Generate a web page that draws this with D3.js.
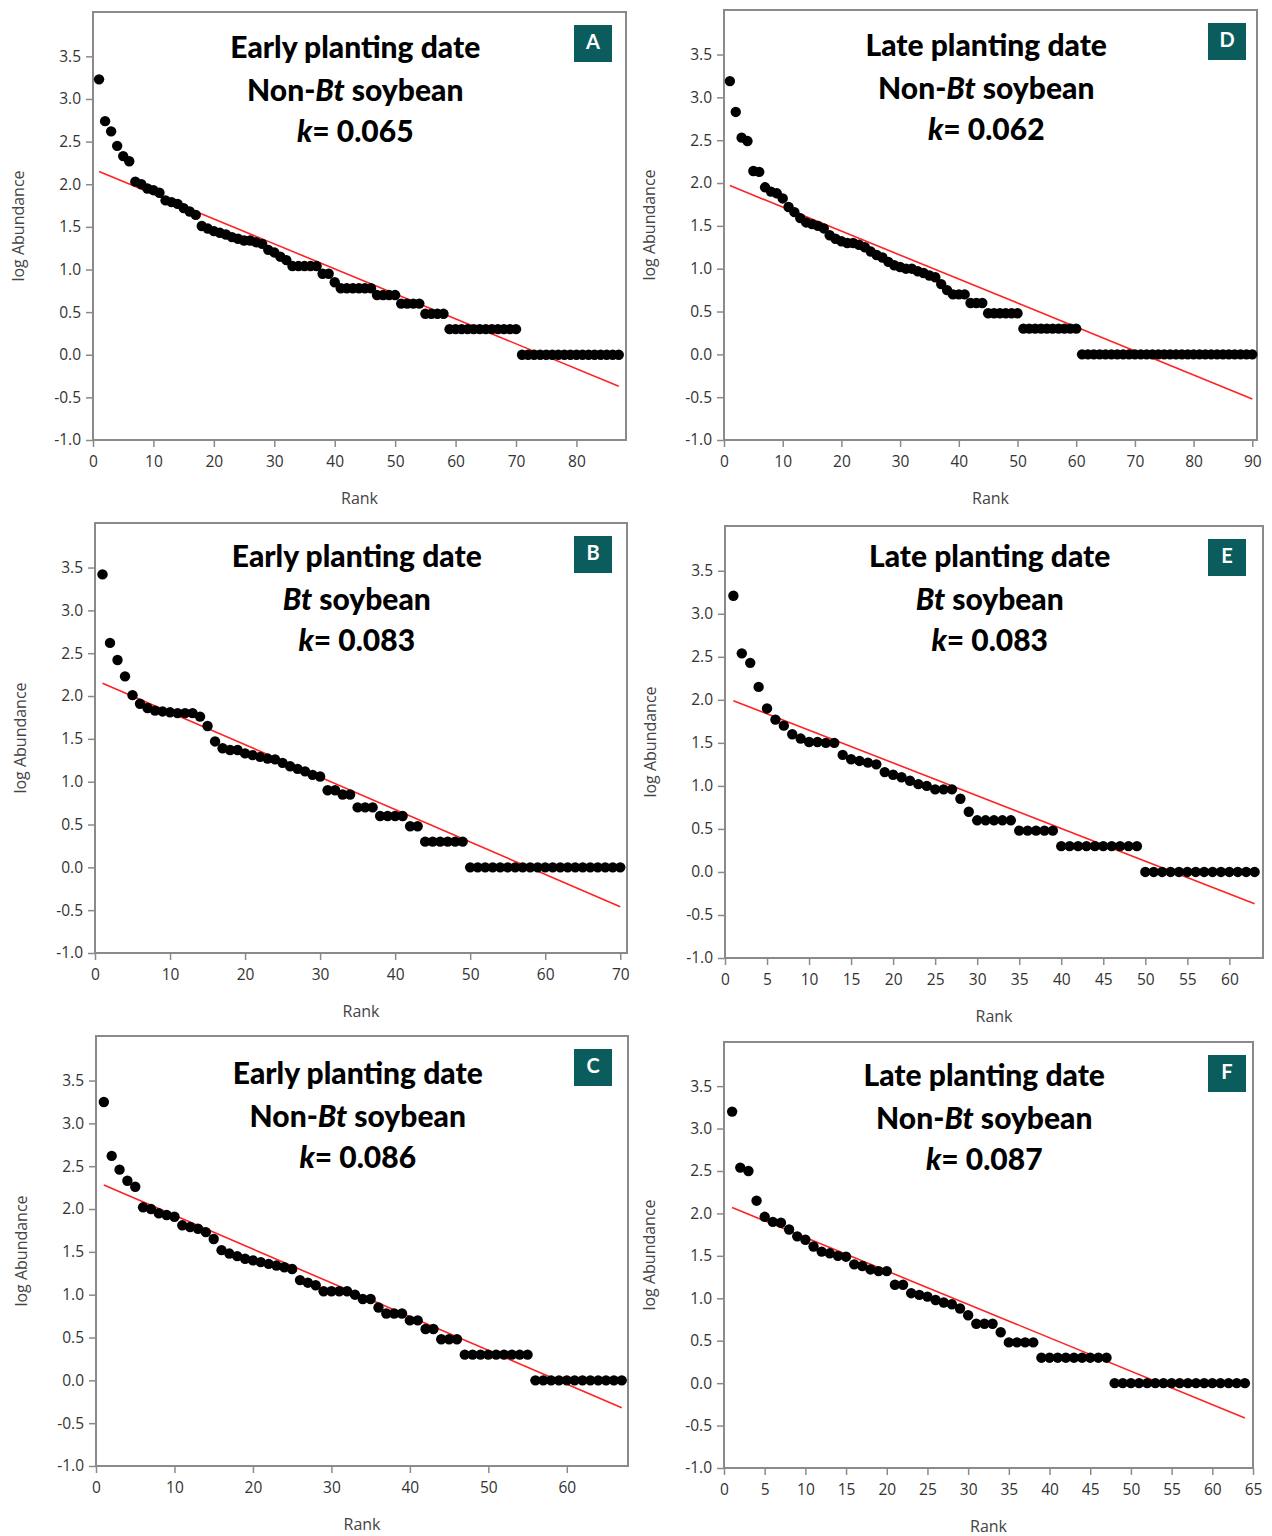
<!DOCTYPE html>
<html>
<head>
<meta charset="utf-8">
<script src="https://cdn.jsdelivr.net/npm/d3@7"></script>
<style>
  body { margin: 0; background: #fff; }
  svg { display: block; }
</style>
</head>
<body>
<div id="chart"></div>
<script>
// Panel labels, titles and fitted slopes
const panelIds = ["A", "D", "B", "E", "C", "F"];
const plantingDates = ["Early", "Late", "Early", "Late", "Early", "Late"];
const soyTypes = ["Non-Bt", "Non-Bt", "Bt", "Bt", "Non-Bt", "Non-Bt"];
const kValues = ["0.065", "0.062", "0.083", "0.083", "0.086", "0.087"];

// log abundance by rank (rank = position in list, starting at 1)
const abundA = [3.23, 2.74, 2.62, 2.45, 2.33, 2.27, 2.03, 2.00, 1.95, 1.93, 1.90, 1.81, 1.79, 1.77, 1.72, 1.68, 1.64,
  1.51, 1.48, 1.45, 1.43, 1.41, 1.38, 1.36, 1.34, 1.34, 1.32, 1.30, 1.23, 1.20, 1.15, 1.11, 1.04, 1.04, 1.04, 1.04, 1.04,
  0.95, 0.95, 0.85, 0.78, 0.78, 0.78, 0.78, 0.78, 0.78, 0.70, 0.70, 0.70, 0.70, 0.60, 0.60, 0.60, 0.60,
  0.48, 0.48, 0.48, 0.48, 0.30, 0.30, 0.30, 0.30, 0.30, 0.30, 0.30, 0.30, 0.30, 0.30, 0.30, 0.30,
  0, 0, 0, 0, 0, 0, 0, 0, 0, 0, 0, 0, 0, 0, 0, 0, 0];
const abundD = [3.19, 2.83, 2.53, 2.49, 2.14, 2.13, 1.95, 1.90, 1.88, 1.82, 1.72, 1.66, 1.59, 1.54, 1.52, 1.50, 1.47,
  1.39, 1.35, 1.32, 1.30, 1.30, 1.28, 1.25, 1.20, 1.16, 1.13, 1.08, 1.04, 1.02, 1.00, 1.00, 0.97, 0.95, 0.92, 0.90,
  0.82, 0.75, 0.70, 0.70, 0.70, 0.60, 0.60, 0.60, 0.48, 0.48, 0.48, 0.48, 0.48, 0.48,
  0.30, 0.30, 0.30, 0.30, 0.30, 0.30, 0.30, 0.30, 0.30, 0.30,
  0, 0, 0, 0, 0, 0, 0, 0, 0, 0, 0, 0, 0, 0, 0, 0, 0, 0, 0, 0, 0, 0, 0, 0, 0, 0, 0, 0, 0, 0];
const abundB = [3.42, 2.62, 2.42, 2.23, 2.01, 1.91, 1.86, 1.83, 1.82, 1.81, 1.80, 1.80, 1.80, 1.76, 1.65, 1.47, 1.39,
  1.37, 1.37, 1.33, 1.31, 1.29, 1.27, 1.26, 1.22, 1.18, 1.15, 1.12, 1.08, 1.06, 0.90, 0.90, 0.85, 0.85,
  0.70, 0.70, 0.70, 0.60, 0.60, 0.60, 0.60, 0.48, 0.48, 0.30, 0.30, 0.30, 0.30, 0.30, 0.30,
  0, 0, 0, 0, 0, 0, 0, 0, 0, 0, 0, 0, 0, 0, 0, 0, 0, 0, 0, 0, 0];
const abundE = [3.21, 2.54, 2.43, 2.15, 1.90, 1.77, 1.70, 1.60, 1.55, 1.51, 1.51, 1.50, 1.50, 1.36, 1.31, 1.29, 1.27,
  1.25, 1.16, 1.13, 1.10, 1.06, 1.02, 1.00, 0.96, 0.96, 0.96, 0.85, 0.70, 0.60, 0.60, 0.60, 0.60, 0.60,
  0.48, 0.48, 0.48, 0.48, 0.48, 0.30, 0.30, 0.30, 0.30, 0.30, 0.30, 0.30, 0.30, 0.30, 0.30,
  0, 0, 0, 0, 0, 0, 0, 0, 0, 0, 0, 0, 0, 0];
const abundC = [3.25, 2.62, 2.46, 2.33, 2.26, 2.02, 2.00, 1.95, 1.93, 1.91, 1.81, 1.79, 1.77, 1.73, 1.65, 1.52, 1.48,
  1.45, 1.42, 1.40, 1.38, 1.36, 1.34, 1.32, 1.30, 1.17, 1.14, 1.11, 1.04, 1.04, 1.04, 1.04, 1.00, 0.95, 0.95, 0.85,
  0.78, 0.78, 0.78, 0.70, 0.70, 0.60, 0.60, 0.48, 0.48, 0.48, 0.30, 0.30, 0.30, 0.30, 0.30, 0.30, 0.30, 0.30, 0.30,
  0, 0, 0, 0, 0, 0, 0, 0, 0, 0, 0, 0];
const abundF = [3.20, 2.54, 2.50, 2.15, 1.96, 1.90, 1.89, 1.81, 1.73, 1.69, 1.61, 1.55, 1.53, 1.50, 1.49, 1.40, 1.38,
  1.34, 1.32, 1.32, 1.16, 1.16, 1.06, 1.04, 1.02, 0.98, 0.95, 0.93, 0.88, 0.80, 0.70, 0.70, 0.70, 0.60,
  0.48, 0.48, 0.48, 0.48, 0.30, 0.30, 0.30, 0.30, 0.30, 0.30, 0.30, 0.30, 0.30,
  0, 0, 0, 0, 0, 0, 0, 0, 0, 0, 0, 0, 0, 0, 0, 0, 0];

// fitted line end points [rank, log abundance]
const fitA = [[1, 2.15], [87, -0.37]];
const fitD = [[1, 1.97], [90, -0.52]];
const fitB = [[1, 2.15], [70, -0.46]];
const fitE = [[1, 1.99], [63, -0.37]];
const fitC = [[1, 2.28], [67, -0.32]];
const fitF = [[1, 2.07], [64, -0.41]];

// axis ticks
const yTicks = [-1.0, -0.5, 0.0, 0.5, 1.0, 1.5, 2.0, 2.5, 3.0, 3.5];
const xTicksA = [0, 10, 20, 30, 40, 50, 60, 70, 80];
const xTicksD = [0, 10, 20, 30, 40, 50, 60, 70, 80, 90];
const xTicksB = [0, 10, 20, 30, 40, 50, 60, 70];
const xTicksE = [0, 5, 10, 15, 20, 25, 30, 35, 40, 45, 50, 55, 60];
const xTicksC = [0, 10, 20, 30, 40, 50, 60];
const xTicksF = [0, 5, 10, 15, 20, 25, 30, 35, 40, 45, 50, 55, 60, 65];

const xMaxes = [88.2, 90.8, 70.9, 64, 67.8, 65];

const abundances = [abundA, abundD, abundB, abundE, abundC, abundF];
const fits = [fitA, fitD, fitB, fitE, fitC, fitF];
const xTickSets = [xTicksA, xTicksD, xTicksB, xTicksE, xTicksC, xTicksF];

// frame boxes in the page
const frames = [
  { left: 93, top: 12, right: 626, bottom: 440 },
  { left: 724, top: 10, right: 1257, bottom: 440 },
  { left: 95, top: 523, right: 627, bottom: 953 },
  { left: 725, top: 526, right: 1263, bottom: 958 },
  { left: 96, top: 1036, right: 628, bottom: 1466 },
  { left: 724, top: 1042, right: 1253, bottom: 1468 }
];
const titleOffsets = [38, 38, 36, 33, 40, 36];
const badgeX = [574, 1208, 574, 1208, 574, 1208];

const width = 1272, height = 1536;
const tickFont = "'Open Sans', 'Noto Sans', sans-serif";
const titleFont = "Lato, 'Open Sans', sans-serif";

const svg = d3.select("#chart")
  .append("svg")
  .attr("width", width)
  .attr("height", height);

panelIds.forEach((id, i) => {
  const f = frames[i];
  const g = svg.append("g");

  const x = d3.scaleLinear()
    .domain([0, xMaxes[i]])
    .range([f.left, f.right]);

  const y = d3.scaleLinear()
    .domain([-1, 4.02])
    .range([f.bottom, f.top]);

  // axes
  const yAxis = g.append("g")
    .attr("transform", `translate(${f.left},0)`)
    .call(d3.axisLeft(y).tickValues(yTicks).tickFormat(d => d.toFixed(1)).tickSize(7).tickPadding(5));
  const xAxis = g.append("g")
    .attr("transform", `translate(0,${f.bottom})`)
    .call(d3.axisBottom(x).tickValues(xTickSets[i]).tickFormat(d => d).tickSize(7).tickPadding(9));

  [yAxis, xAxis].forEach(a => {
    a.select(".domain").remove();
    a.selectAll("line").attr("stroke", "#8a8a8a").attr("stroke-width", 1.5);
    a.selectAll("text")
      .attr("fill", "#333")
      .style("font-family", tickFont)
      .style("font-size", "15.5px");
  });

  // frame
  g.append("rect")
    .attr("x", f.left)
    .attr("y", f.top)
    .attr("width", f.right - f.left)
    .attr("height", f.bottom - f.top)
    .attr("fill", "none")
    .attr("stroke", "#8a8a8a")
    .attr("stroke-width", 2);

  // axis titles
  g.append("text")
    .attr("x", (f.left + f.right) / 2)
    .attr("y", f.bottom + 60)
    .attr("text-anchor", "middle")
    .attr("dominant-baseline", "middle")
    .attr("fill", "#444")
    .style("font-family", tickFont)
    .style("font-size", "16px")
    .text("Rank");

  g.append("text")
    .attr("transform", `translate(${f.left - 73},${(f.top + f.bottom) / 2}) rotate(-90)`)
    .attr("text-anchor", "middle")
    .attr("dominant-baseline", "middle")
    .attr("fill", "#444")
    .style("font-family", tickFont)
    .style("font-size", "16px")
    .text("log Abundance");

  // fitted line
  g.append("line")
    .attr("x1", x(fits[i][0][0]))
    .attr("y1", y(fits[i][0][1]))
    .attr("x2", x(fits[i][1][0]))
    .attr("y2", y(fits[i][1][1]))
    .attr("stroke", "#f22")
    .attr("stroke-width", 1.6);

  // points
  g.selectAll("circle")
    .data(abundances[i])
    .enter()
    .append("circle")
    .attr("cx", (d, j) => x(j + 1))
    .attr("cy", d => y(d))
    .attr("r", 5.2)
    .attr("fill", "#000");

  // titles
  const cx = f.left + (f.right - f.left) * 0.492;
  const t0 = f.top + titleOffsets[i];
  const title = g.append("g")
    .attr("text-anchor", "middle")
    .attr("fill", "#000")
    .style("font-family", titleFont)
    .style("font-weight", "900")
    .style("font-size", "30px");

  title.append("text")
    .attr("x", cx).attr("y", t0)
    .attr("dominant-baseline", "middle")
    .text(plantingDates[i] + " planting date");

  const line2 = title.append("text")
    .attr("x", cx).attr("y", t0 + 43)
    .attr("dominant-baseline", "middle");
  if (soyTypes[i] === "Non-Bt") line2.append("tspan").text("Non-");
  line2.append("tspan").style("font-style", "italic").text("Bt");
  line2.append("tspan").text(" soybean");

  const line3 = title.append("text")
    .attr("x", cx).attr("y", t0 + 84)
    .attr("dominant-baseline", "middle");
  line3.append("tspan").style("font-style", "italic").text("k");
  line3.append("tspan").text("= " + kValues[i]);

  // panel badge
  g.append("rect")
    .attr("x", badgeX[i])
    .attr("y", f.top + 13)
    .attr("width", 38)
    .attr("height", 37)
    .attr("fill", "#0b5c5c");
  g.append("text")
    .attr("x", badgeX[i] + 19)
    .attr("y", f.top + 32)
    .attr("text-anchor", "middle")
    .attr("dominant-baseline", "middle")
    .attr("fill", "#fff")
    .style("font-family", titleFont)
    .style("font-weight", "bold")
    .style("font-size", "20px")
    .text(id);
});
</script>
</body>
</html>
